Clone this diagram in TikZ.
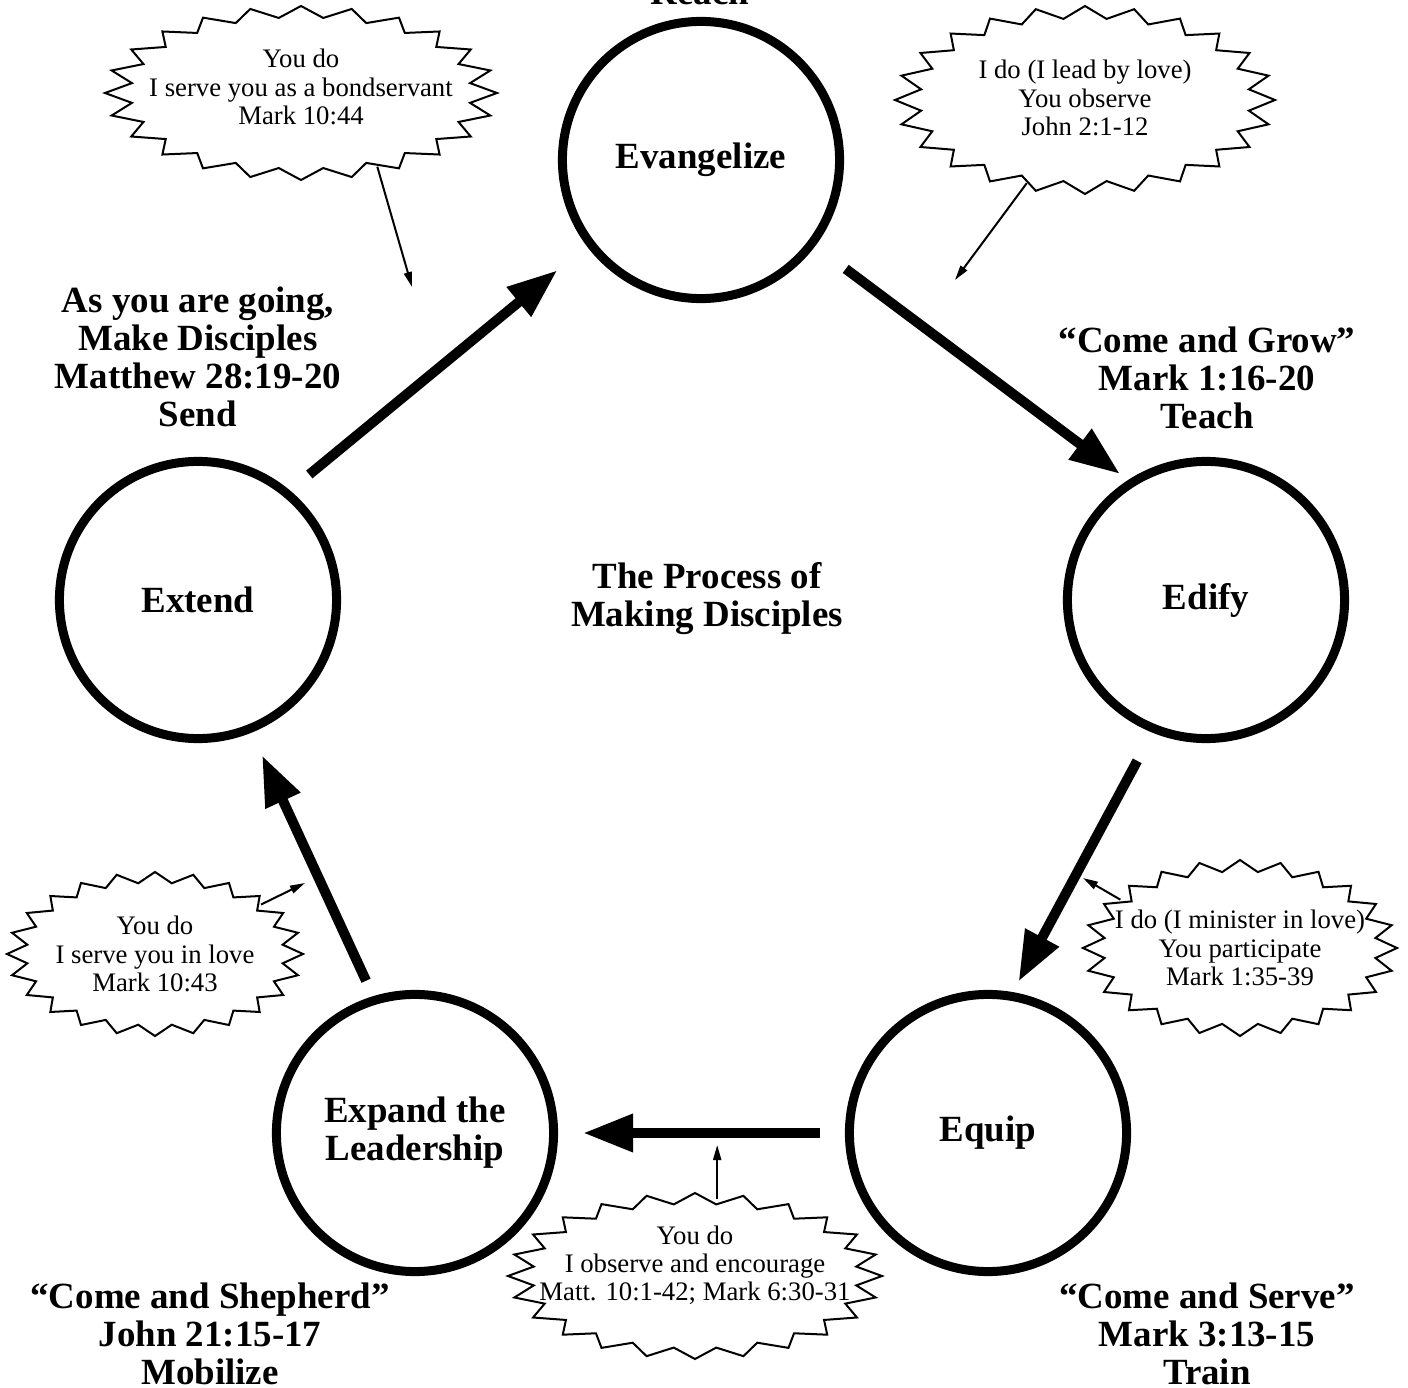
\documentclass[tikz,border=0pt]{standalone}
\usepackage{fontspec}
\setmainfont{Liberation Serif}
\usetikzlibrary{arrows.meta,shapes.geometric}

\newcommand\stagefont{\fontsize{10.5}{10.8}\selectfont\bfseries}
\newcommand\notefont{\fontsize{7.6}{8}\selectfont}
% 24-point star drawn round a burst node
\newcommand\burstedge[3]{%
  \draw[burstline,shift={(#1.center)}] plot[samples at={0,7.5,...,352.5}]
    ({#2*(0.935+0.065*cos(24*\x))*cos(\x)},{#3*(0.935+0.065*cos(24*\x))*sin(\x)}) -- cycle;}

\tikzset{
  stage/.style={circle, draw, line width=0.09cm, minimum size=2.77cm, inner sep=0pt, align=center, font=\stagefont},
  heading/.style={align=center, font=\stagefont},
  burst/.style={ellipse, inner sep=0pt, outer sep=0pt},
  burstline/.style={line width=0.02cm},
  note/.style={align=center, font=\notefont},
  bigarrow/.style={line width=0.1cm, -{Triangle[length=0.5cm,width=0.36cm]}},
  smallarrow/.style={line width=0.02cm, -{Triangle[length=0.15cm,width=0.08cm]}},
}

\begin{document}
\begin{tikzpicture}[x=0.01cm, y=-0.01cm]
\useasboundingbox (0,0) rectangle (1408,1388);

% the five stages
\node[stage] (evangelize) at (701,160) {Evangelize};
\node[stage] (edify) at (1206,600) {Edify};
\node[stage] (equip) at (988,1133) {Equip};
\node[stage] (expand) at (415,1133) {Expand the\\Leadership};
\node[stage] (extend) at (198,600) {Extend};

\draw[bigarrow, shorten <=0.25cm, shorten >=0.38cm] (extend.50) -- (evangelize.217);
\draw[bigarrow, shorten <=0.38cm, shorten >=0.1cm] (evangelize.-37) -- (edify.123);
\draw[bigarrow, shorten <=0.32cm, shorten >=0.12cm] (edify.-112) -- (equip.80);
\draw[bigarrow, shorten <=0.25cm, shorten >=0.25cm] (equip.180) -- (expand.0);
\draw[bigarrow, shorten <=0.17cm, shorten >=0.25cm] (expand.107) -- (extend.-68);

% headings
\node[heading, anchor=base] (reach) at (700,5) {Reach};
\node[heading] (send) at (198,357) {As you are going,\\Make Disciples\\Matthew 28:19-20\\Send};
\node[heading] (teach) at (1207,378) {``Come and Grow''\\Mark 1:16-20\\Teach};
\node[heading] (train) at (1207,1334) {``Come and Serve''\\Mark 3:13-15\\Train};
\node[heading] (mobilize) at (210,1334) {``Come and Shepherd''\\John 21:15-17\\Mobilize};
\node[heading] (process) at (707,599) {The Process of\\Making Disciples};

% bursts
\node[burst, minimum width=3.66cm, minimum height=1.62cm,
  label={[note, yshift=0.06cm]center:{You do\\I serve you as a bondservant\\Mark 10:44}}] (mark1044) at (301,93) {};
\node[burst, minimum width=3.56cm, minimum height=1.76cm,
  label={[note, yshift=0.02cm]center:{I do (I lead by love)\\You observe\\John 2:1-12}}] (john212) at (1085,100) {};
\node[burst, minimum width=3.5cm, minimum height=1.56cm,
  label={[note, yshift=0.11cm]center:{You do\\I observe and encourage\\Matt. 10:1-42; Mark 6:30-31}}] (matt10) at (695,1276) {};
\node[burst, minimum width=2.94cm, minimum height=1.66cm,
  label={[note]center:{I do (I minister in love)\\You participate\\Mark 1:35-39}}] (mark135) at (1240,948) {};
\node[burst, minimum width=2.76cm, minimum height=1.54cm,
  label={[note]center:{You do\\I serve you in love\\Mark 10:43}}] (mark1043) at (155,954) {};

\burstedge{mark1044}{196}{87}
\burstedge{john212}{190}{94}
\burstedge{matt10}{187}{83}
\burstedge{mark135}{157}{88}
\burstedge{mark1043}{148}{82}

\coordinate (mark1044end) at (412,287);
\coordinate (john212end) at (955,280);
\coordinate (matt10end) at (717,1145);
\coordinate (mark135end) at (1083,878);
\coordinate (mark1043end) at (305,883);

\draw[smallarrow] (mark1044.-44) -- (mark1044end);
\draw[smallarrow] (john212.235) -- (john212end);
\draw[smallarrow] (matt10.74) -- (matt10.74 |- matt10end);
\draw[smallarrow] (mark135.158) -- (mark135end);
\draw[smallarrow] (mark1043.25) -- (mark1043end);
\end{tikzpicture}
\end{document}
